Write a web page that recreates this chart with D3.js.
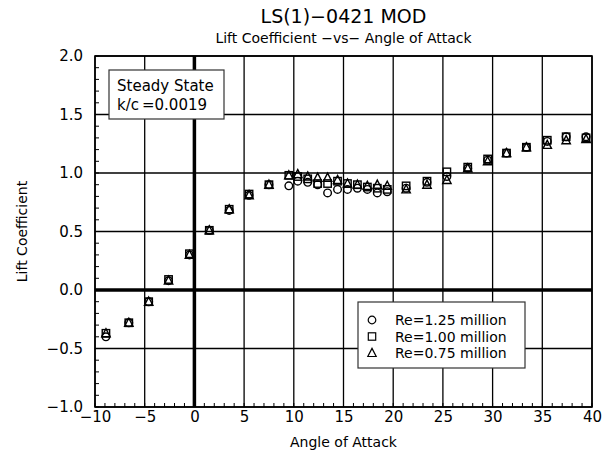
<!DOCTYPE html>
<html>
<head>
<meta charset="utf-8">
<script src="https://cdn.jsdelivr.net/npm/d3@7"></script>
<style>
  body { margin: 0; background: #fff; }
  svg text { font-family: "DejaVu Sans", sans-serif; fill: #000; }
</style>
</head>
<body>
<svg id="chart" width="610" height="458"></svg>
<script>
// Angle of attack (deg), shared by all three Reynolds numbers
const alpha = [-8.9, -6.6, -4.6, -2.6, -0.5, 1.5, 3.5, 5.5, 7.5, 9.5, 10.4, 11.4, 12.4, 13.4,
  14.4, 15.4, 16.4, 17.4, 18.4, 19.4, 21.3, 23.4, 25.4, 27.5, 29.5, 31.4, 33.4, 35.5, 37.4, 39.4];

const clRe125 = [-0.40, -0.28, -0.10, 0.08, 0.30, 0.51, 0.68, 0.81, 0.90, 0.89, 0.93, 0.92, 0.90, 0.83,
  0.86, 0.86, 0.87, 0.86, 0.83, 0.84, 0.87, 0.92, 0.97, 1.04, 1.11, 1.17, 1.22, 1.27, 1.31, 1.31];
const clRe100 = [-0.37, -0.28, -0.10, 0.09, 0.31, 0.51, 0.69, 0.82, 0.90, 0.98, 0.97, 0.95, 0.91, 0.91,
  0.93, 0.91, 0.90, 0.88, 0.87, 0.86, 0.89, 0.93, 1.01, 1.05, 1.12, 1.17, 1.22, 1.28, 1.31, 1.30];
const clRe075 = [-0.37, -0.28, -0.10, 0.08, 0.30, 0.51, 0.69, 0.81, 0.90, 0.98, 0.99, 0.97, 0.96, 0.96,
  0.94, 0.91, 0.90, 0.89, 0.90, 0.89, 0.86, 0.90, 0.94, 1.04, 1.10, 1.17, 1.22, 1.24, 1.28, 1.29];

const seriesNames = ["Re=1.25 million", "Re=1.00 million", "Re=0.75 million"];
const seriesShapes = ["circle", "square", "triangle"];
const xTicks = [-10, -5, 0, 5, 10, 15, 20, 25, 30, 35, 40];
const yTicks = [-1.0, -0.5, 0.0, 0.5, 1.0, 1.5, 2.0];

const svg = d3.select("#chart");
const plotL = 95, plotR = 592, plotT = 56, plotB = 407;

const x = d3.scaleLinear().domain([-10, 40]).range([plotL, plotR]);
const y = d3.scaleLinear().domain([-1, 2]).range([plotB, plotT]);

// grid
const grid = svg.append("g");
grid.selectAll(".vg").data(xTicks).enter().append("line")
  .attr("x1", d => x(d)).attr("x2", d => x(d)).attr("y1", plotT).attr("y2", plotB)
  .attr("stroke", "#000").attr("stroke-width", d => d === 0 ? 3.5 : 1.3);
grid.selectAll(".hg").data(yTicks).enter().append("line")
  .attr("y1", d => y(d)).attr("y2", d => y(d)).attr("x1", plotL).attr("x2", plotR)
  .attr("stroke", "#000").attr("stroke-width", d => d === 0 ? 3.5 : 1.3);

// minor ticks
grid.selectAll(".ym").data(d3.range(-10, 21).map(d => d / 10)).enter().append("line")
  .attr("x1", plotL).attr("x2", plotL + 4).attr("y1", d => y(d)).attr("y2", d => y(d))
  .attr("stroke", "#000").attr("stroke-width", 1);
grid.selectAll(".xm").data(d3.range(-10, 41)).enter().append("line")
  .attr("x1", d => x(d)).attr("x2", d => x(d)).attr("y1", plotB).attr("y2", plotB - 4)
  .attr("stroke", "#000").attr("stroke-width", 1);

svg.append("rect").attr("x", plotL).attr("y", plotT).attr("width", plotR - plotL).attr("height", plotB - plotT)
  .attr("fill", "none").attr("stroke", "#000").attr("stroke-width", 1.6);

// axes labels
const minus = s => s.replace("-", "\u2212");
const xAxis = d3.axisBottom(x).tickValues(xTicks).tickSize(0).tickPadding(4)
  .tickFormat(d => minus(d3.format("d")(d)));
svg.append("g").attr("transform", `translate(0,${plotB})`).call(xAxis)
  .call(g => g.select(".domain").remove())
  .selectAll("text").attr("font-size", 15).attr("font-family", "DejaVu Sans");
const yAxis = d3.axisLeft(y).tickValues(yTicks).tickSize(0).tickPadding(12)
  .tickFormat(d => minus(d3.format(".1f")(d)));
svg.append("g").attr("transform", `translate(${plotL},0)`).call(yAxis)
  .call(g => g.select(".domain").remove())
  .selectAll("text").attr("font-size", 15).attr("font-family", "DejaVu Sans");

// titles
const cx = (plotL + plotR) / 2;
svg.append("text").attr("x", cx).attr("y", 23).attr("text-anchor", "middle").attr("font-size", 19)
  .text("LS(1)\u22120421 MOD");
svg.append("text").attr("x", cx).attr("y", 43).attr("text-anchor", "middle").attr("font-size", 14)
  .text("Lift Coefficient \u2212vs\u2212 Angle of Attack");
svg.append("text").attr("x", cx).attr("y", 447).attr("text-anchor", "middle").attr("font-size", 14)
  .text("Angle of Attack");
svg.append("text").attr("transform", `translate(27,${(plotT + plotB) / 2}) rotate(-90)`)
  .attr("text-anchor", "middle").attr("font-size", 14).text("Lift Coefficient");

// markers
function marker(sel, shape) {
  if (shape === "circle") {
    sel.append("circle").attr("r", 3.8);
  } else if (shape === "square") {
    sel.append("rect").attr("x", -3.7).attr("y", -3.7).attr("width", 7.4).attr("height", 7.4);
  } else {
    sel.append("path").attr("d", "M0,-4.6L4.2,3.5L-4.2,3.5Z");
  }
}

const seriesData = [clRe125, clRe100, clRe075];
seriesData.forEach((cl, si) => {
  const pts = svg.append("g").attr("fill", "none").attr("stroke", "#000").attr("stroke-width", 1.4)
    .selectAll("g").data(alpha.map((a, i) => [a, cl[i]])).enter().append("g")
    .attr("transform", d => `translate(${x(d[0])},${y(d[1])})`);
  marker(pts, seriesShapes[si]);
});

// steady state box
const box = svg.append("g").attr("transform", "translate(109,70)");
box.append("rect").attr("width", 115).attr("height", 49).attr("fill", "#fff")
  .attr("stroke", "#333").attr("stroke-width", 1.2);
box.append("text").attr("x", 8).attr("y", 21).attr("font-size", 15).text("Steady State");
box.append("text").attr("x", 8).attr("y", 40).attr("font-size", 15).text("k/c\u2009=0.0019");

// legend
const legend = svg.append("g").attr("transform", "translate(358,302)");
legend.append("rect").attr("width", 167).attr("height", 66).attr("fill", "#fff")
  .attr("stroke", "#333").attr("stroke-width", 1.2);
const items = legend.selectAll(".item").data(seriesNames).enter().append("g")
  .attr("transform", (d, i) => `translate(0,${18 + i * 16.5})`);
items.each(function (d, i) {
  const m = d3.select(this).append("g").attr("transform", "translate(14,0)")
    .attr("fill", "none").attr("stroke", "#000").attr("stroke-width", 1.2);
  marker(m, seriesShapes[i]);
});
items.append("text").attr("x", 37).attr("y", 5).attr("font-size", 14).text(d => d);
</script>
</body>
</html>
